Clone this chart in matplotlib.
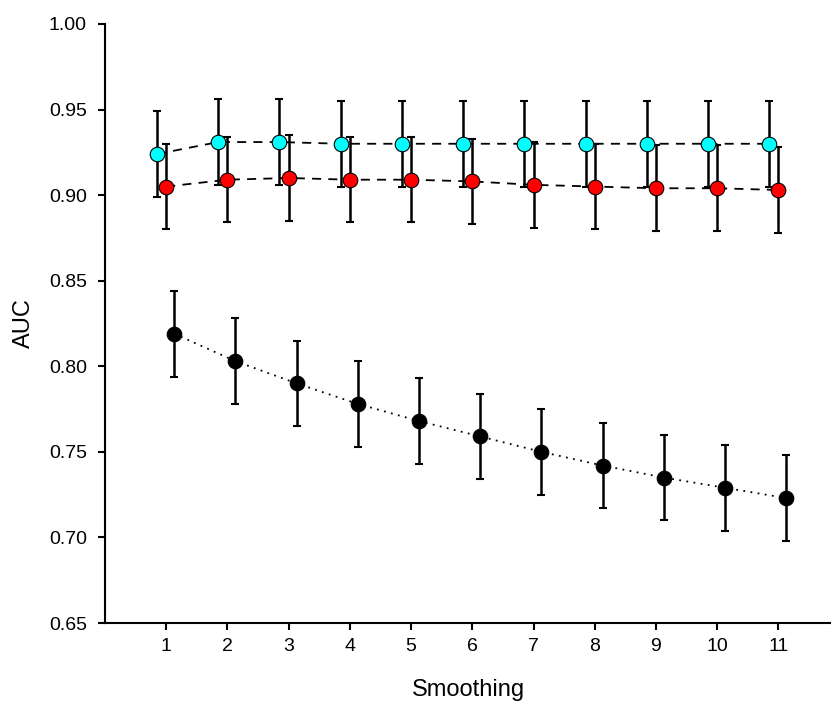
import numpy as np
import matplotlib.pyplot as plt

plt.rcParams['font.family'] = ['Liberation Sans', 'DejaVu Sans']

smoothing = np.arange(1, 12)
auc_cyan = [0.924, 0.931, 0.931, 0.930, 0.930, 0.930, 0.930, 0.930, 0.930, 0.930, 0.930]
auc_red = [0.905, 0.909, 0.910, 0.909, 0.909, 0.908, 0.906, 0.905, 0.904, 0.904, 0.903]
auc_black = [0.819, 0.803, 0.790, 0.778, 0.768, 0.759, 0.750, 0.742, 0.735, 0.729, 0.723]
err_cyan = [0.025] * 11
err_red = [0.025] * 11
err_black = [0.025] * 11

fig = plt.figure(figsize=(8.31, 7.04), dpi=100)
ax = fig.add_axes([0.1264, 0.115, 0.8736, 0.851])

series = [
    (smoothing - 0.15, auc_cyan, err_cyan, '#00ffff', (0, (5, 4))),
    (smoothing + 0.0, auc_red, err_red, '#ff0000', (0, (5, 4))),
    (smoothing + 0.13, auc_black, err_black, 'black', (0, (1, 3))),
]
for x, y, e, c, ls in series:
    ax.plot(x, y, color='black', linestyle=ls, linewidth=1.3, zorder=1)
    ax.errorbar(x, y, yerr=e, fmt='none', ecolor='black', elinewidth=1.8,
                capsize=3, capthick=1.5, zorder=2)
    ax.plot(x, y, 'o', markersize=10.5, markerfacecolor=c,
            markeredgecolor='black', markeredgewidth=0.8, zorder=3)

ax.set_xlim(0, 11.86)
ax.set_ylim(0.65, 1.00)
ax.set_xticks(smoothing)
ax.set_yticks(np.arange(0.65, 1.001, 0.05))
ax.set_yticklabels([f"{v:.2f}" for v in np.arange(0.65, 1.001, 0.05)])
ax.spines['top'].set_visible(False)
ax.spines['right'].set_visible(False)
ax.spines['left'].set_linewidth(1.5)
ax.spines['bottom'].set_linewidth(1.5)
ax.tick_params(labelsize=14, width=1.5, length=5, direction='out')
ax.tick_params(axis='x', pad=6)
ax.tick_params(axis='y', pad=8)
ax.set_xlabel('Smoothing', fontsize=17, labelpad=17)
ax.set_ylabel('AUC', fontsize=17, labelpad=10)

fig.savefig('out.png', dpi=100)
